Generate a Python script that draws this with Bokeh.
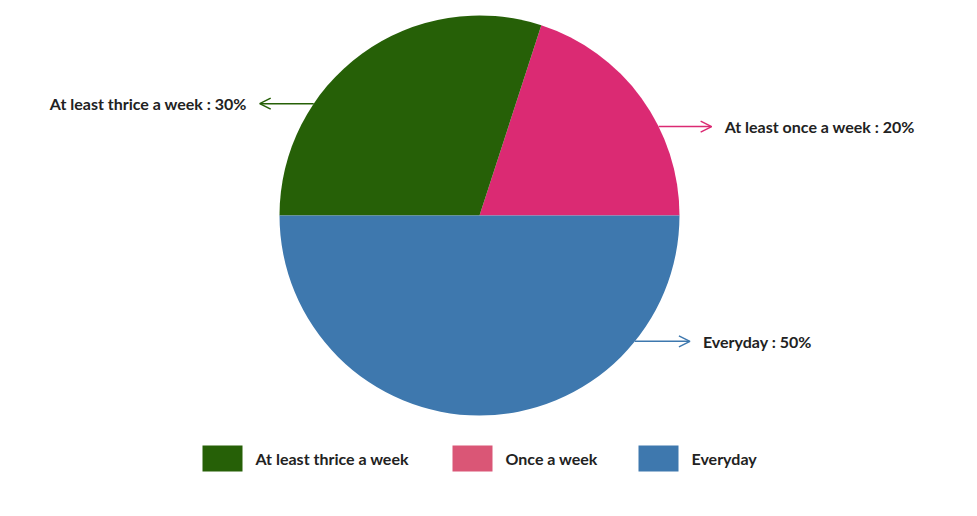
import math
from bokeh.plotting import figure
from bokeh.models import Range1d, Arrow, OpenHead
from bokeh.embed import file_html
from bokeh.resources import INLINE
from bokeh.core.properties import value

categories = ["Once a week", "At least thrice a week", "Everyday"]
label_names = ["At least once a week", "At least thrice a week", "Everyday"]
values = [20, 30, 50]
slice_colors = ["#DB2A73", "#266007", "#3E78AE"]

legend_order = ["At least thrice a week", "Once a week", "Everyday"]
legend_colors = ["#266007", "#DA5676", "#3E78AE"]

W, H = 977, 516
FONT = "Lato"

p = figure(width=W, height=H, output_backend="svg", toolbar_location=None,
           x_range=Range1d(0, W), y_range=Range1d(0, H), min_border=0)
p.axis.visible = False
p.grid.visible = False
p.outline_line_color = None

cx, cy, r = 479, H - 215, 200

# wedges, starting at 3 o'clock, anticlockwise
total = sum(values)
starts, ends = [], []
acc = 0.0
for v in values:
    starts.append(2 * math.pi * acc / total)
    acc += v
    ends.append(2 * math.pi * acc / total)

p.wedge(x=[cx] * 3, y=[cy] * 3, radius=r, start_angle=starts, end_angle=ends,
        fill_color=slice_colors, line_color=None, direction="anticlock")

# callout labels: anchor angle on rim (deg), arrow length
anchor_deg = [26.4, 146.0, -39.0]
arrow_len = [53, 54, 55]
for i in range(3):
    a = math.radians(anchor_deg[i])
    x0 = cx + r * math.cos(a)
    y0 = cy + r * math.sin(a)
    side = 1 if math.cos(a) > 0 else -1
    x1 = x0 + side * arrow_len[i]
    p.add_layout(Arrow(end=OpenHead(size=11, line_color=slice_colors[i], line_width=1.5),
                       x_start=x0, y_start=y0, x_end=x1, y_end=y0,
                       line_color=slice_colors[i], line_width=1.5))
    txt = f"{label_names[i]} : {values[i]}%"
    p.text(x=[x1 + side * 13], y=[y0], text=[txt],
           text_font=value(FONT), text_font_style="bold", text_font_size="16px",
           text_color="#222222", text_baseline="middle",
           text_align="left" if side > 0 else "right")

# legend
leg_x = [202, 452, 638]
leg_y = 458
for i, name in enumerate(legend_order):
    p.rect(x=[leg_x[i] + 20], y=[H - leg_y], width=40, height=26,
           fill_color=legend_colors[i], line_color=None)
    p.text(x=[leg_x[i] + 53], y=[H - leg_y], text=[name],
           text_font=value(FONT), text_font_style="bold", text_font_size="16px",
           text_color="#222222", text_baseline="middle", text_align="left")

open("out.html", "w").write(file_html(p, INLINE))
